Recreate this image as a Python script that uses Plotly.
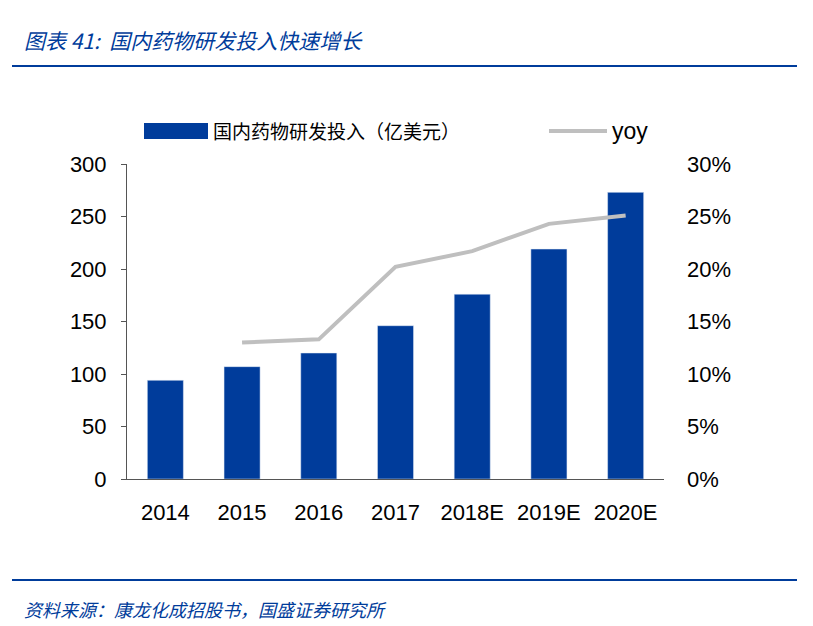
import plotly.graph_objects as go

years = ['2014', '2015', '2016', '2017', '2018E', '2019E', '2020E']
invest = [94, 107, 120, 146, 176, 219, 273]
yoy_years = ['2015', '2016', '2017', '2018E', '2019E', '2020E']
yoy = [0.130, 0.133, 0.202, 0.217, 0.243, 0.251]

blue = '#003C9B'
font = 'Noto Sans CJK SC'

# plot area in reference pixels
L, R, T, B = 123, 660, 164, 479
DX, DY = -4, -8  # page offset correction

fig = go.Figure()
fig.add_trace(go.Bar(x=years, y=invest, name='国内药物研发投入（亿美元）',
                     marker_color=blue, width=0.47, showlegend=False))
fig.add_trace(go.Scatter(x=yoy_years, y=yoy, name='yoy', yaxis='y2', mode='lines',
                         line=dict(color='#BFBFBF', width=4), showlegend=False))

def px_x(px):
    return (px - L) / (R - L)

def px_y(py):
    return (B - py) / (B - T)

fig.update_layout(
    width=813, height=626,
    margin=dict(l=L + DX, r=813 - R - DX, t=T + DY, b=626 - B - DY),
    plot_bgcolor='white', paper_bgcolor='white',
    font=dict(family='Liberation Sans', size=22, color='black'),
    bargap=0.5,
    xaxis=dict(showline=True, linecolor='#555', ticks='', ticklabelstandoff=14,
               tickfont=dict(size=22)),
    yaxis=dict(range=[0, 300], dtick=50, showline=True, linecolor='#555',
               ticks='outside', ticklen=5, tickcolor='#555', showgrid=False,
               ticklabelstandoff=10, tickfont=dict(size=22)),
    yaxis2=dict(range=[0, 0.3], dtick=0.05, tickformat='.0%', overlaying='y',
                side='right', showline=False, showgrid=False,
                ticklabelstandoff=22, tickfont=dict(size=22)),
    shapes=[
        dict(type='line', xref='paper', yref='paper', x0=px_x(8), x1=px_x(793),
             y0=px_y(66), y1=px_y(66), line=dict(color=blue, width=2)),
        dict(type='line', xref='paper', yref='paper', x0=px_x(8), x1=px_x(793),
             y0=px_y(580), y1=px_y(580), line=dict(color=blue, width=2)),
        dict(type='rect', xref='paper', yref='paper', x0=px_x(140), x1=px_x(204),
             y0=px_y(139), y1=px_y(123), fillcolor=blue, line=dict(width=0)),
        dict(type='line', xref='paper', yref='paper', x0=px_x(545), x1=px_x(603),
             y0=px_y(131), y1=px_y(131), line=dict(color='#BFBFBF', width=4)),
    ],
    annotations=[
        dict(text='<i>图表 41:  国内药物研发投入快速增长</i>', xref='paper', yref='paper',
             x=px_x(18), y=px_y(40), xanchor='left', yanchor='middle', showarrow=False,
             font=dict(family=font, size=21, color=blue)),
        dict(text='国内药物研发投入（亿美元）', xref='paper', yref='paper',
             x=px_x(207), y=px_y(131), xanchor='left', yanchor='middle', showarrow=False,
             font=dict(family=font, size=19)),
        dict(text='yoy', xref='paper', yref='paper',
             x=px_x(606), y=px_y(131), xanchor='left', yanchor='middle', showarrow=False,
             font=dict(size=23)),
        dict(text='<i>资料来源：康龙化成招股书，国盛证券研究所</i>', xref='paper', yref='paper',
             x=px_x(18), y=px_y(609), xanchor='left', yanchor='middle', showarrow=False,
             font=dict(family=font, size=18, color=blue)),
    ],
)

fig.write_html('out.html')
